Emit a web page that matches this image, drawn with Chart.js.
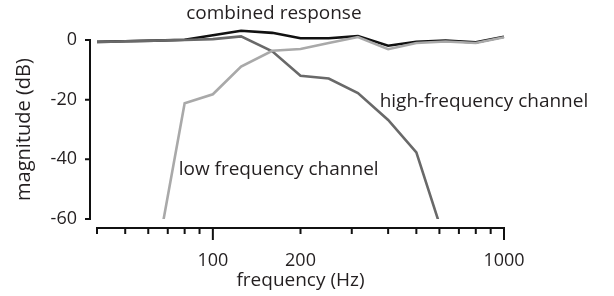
<!DOCTYPE html>
<html>
<head>
<meta charset="utf-8">
<script src="https://cdn.jsdelivr.net/npm/chart.js@4"></script>
<style>
  html, body { margin: 0; padding: 0; background: #fff; }
</style>
</head>
<body>
<canvas id="responseChart" width="614" height="296"></canvas>
<script>
// third-octave band centres (Hz)
const freqs = [40, 50, 63, 80, 100, 125, 160, 200, 250, 315, 400, 500, 630, 800, 1000];
// magnitudes in dB, null where the curve is far below the plot
const combined    = [-0.6, -0.4, -0.2, 0.1, 1.6, 3.1, 2.4, 0.6, 0.6, 1.3, -1.9, -0.6, -0.2, -0.8, 1.1];
const lowChannel  = [null, null, -77, -21.2, -18.2, -8.9, -3.6, -3.0, -1.0, 1.0, -3.1, -1.0, -0.5, -1.0, 0.9];
const highChannel = [-0.7, -0.4, -0.2, 0.0, 0.3, 1.2, -3.8, -12.0, -12.9, -17.8, -26.8, -37.7, -68, null, null];

const freqTicks = [100, 200, 1000];
const minorFreqs = [40, 50, 60, 70, 80, 90, 200, 300, 400, 500, 600, 700, 800, 900];
const majorFreqs = [100, 1000];
const dbTicks = [0, -20, -40, -60];

const textColor = '#231f20';
Chart.defaults.font.family = '"Open Sans"';
Chart.defaults.color = textColor;

const points = vals => freqs.map((f, i) => ({ x: f, y: vals[i] }));

// only clip at the bottom (-60 dB); the combined curve rises above 0 dB
const clipBottom = { left: false, top: false, right: false, bottom: 0 };

const axesAndNotes = {
    id: 'axesAndNotes',
    afterDraw(chart) {
        const { ctx, chartArea } = chart;
        const xs = chart.scales.x, ys = chart.scales.y;
        ctx.save();
        ctx.strokeStyle = '#111';
        ctx.lineWidth = 2;
        ctx.lineCap = 'square';

        // y axis, set off to the left of the plot
        const yLine = chartArea.left - 7;
        ctx.beginPath();
        ctx.moveTo(yLine, ys.getPixelForValue(0));
        ctx.lineTo(yLine, ys.getPixelForValue(-60));
        dbTicks.forEach(v => {
            const p = ys.getPixelForValue(v);
            ctx.moveTo(yLine - 4, p);
            ctx.lineTo(yLine, p);
        });
        ctx.stroke();

        // x axis, set off below the plot
        const xLine = chartArea.bottom + 9;
        ctx.lineCap = 'butt';
        ctx.beginPath();
        ctx.moveTo(xs.getPixelForValue(40) - 1, xLine);
        ctx.lineTo(xs.getPixelForValue(1000) + 1, xLine);
        minorFreqs.forEach(f => {
            const p = xs.getPixelForValue(f);
            ctx.moveTo(p, xLine);
            ctx.lineTo(p, xLine + 6);
        });
        majorFreqs.forEach(f => {
            const p = xs.getPixelForValue(f);
            ctx.moveTo(p, xLine);
            ctx.lineTo(p, xLine + 12);
        });
        ctx.stroke();

        // curve labels
        const notes = [
            { text: 'combined response', f: 81, db: 7.0 },
            { text: 'high-frequency channel', f: 374, db: -22.4 },
            { text: 'low frequency channel', f: 76.3, db: -45.2 }
        ];
        ctx.fillStyle = textColor;
        ctx.font = '19px "Open Sans"';
        ctx.textAlign = 'left';
        ctx.textBaseline = 'alphabetic';
        notes.forEach(n => {
            ctx.fillText(n.text, xs.getPixelForValue(n.f), ys.getPixelForValue(n.db));
        });
        ctx.restore();
    }
};

const ctx = document.getElementById('responseChart').getContext('2d');
const responseChart = new Chart(ctx, {
    type: 'line',
    data: {
        datasets: [{
            label: 'low frequency channel',
            data: points(lowChannel),
            borderColor: '#a9a9a9',
            borderWidth: 2.6,
            clip: clipBottom
        }, {
            label: 'high-frequency channel',
            data: points(highChannel),
            borderColor: '#696969',
            borderWidth: 2.6,
            clip: clipBottom
        }, {
            label: 'combined response',
            data: points(combined),
            borderColor: '#111111',
            borderWidth: 2.6,
            clip: clipBottom
        }]
    },
    options: {
        responsive: false,
        animation: false,
        elements: {
            point: { radius: 0 },
            line: { tension: 0 }
        },
        layout: {
            padding: { top: 40, right: 110, bottom: 0, left: 0 }
        },
        plugins: {
            legend: { display: false },
            tooltip: { enabled: false }
        },
        scales: {
            x: {
                type: 'logarithmic',
                min: 40,
                max: 1000,
                grid: { display: false, drawTicks: false },
                border: { display: false },
                afterBuildTicks: scale => {
                    scale.ticks = freqTicks.map(v => ({ value: v }));
                },
                afterFit: scale => { scale.height = 77; },
                ticks: {
                    autoSkip: false,
                    maxRotation: 0,
                    padding: 31,
                    font: { size: 18 },
                    callback: v => String(v)
                },
                title: {
                    display: true,
                    text: 'frequency (Hz)',
                    font: { size: 19 },
                    padding: { top: 0, bottom: 4 }
                }
            },
            y: {
                min: -60,
                max: 0,
                grid: { display: false, drawTicks: false },
                border: { display: false },
                afterBuildTicks: scale => {
                    scale.ticks = dbTicks.map(v => ({ value: v }));
                },
                afterFit: scale => { scale.width = 97; },
                ticks: {
                    padding: 20,
                    font: { size: 18 },
                    callback: v => String(v)
                },
                title: {
                    display: true,
                    text: 'magnitude (dB)',
                    font: { size: 20 },
                    padding: { top: 12, bottom: 0 }
                }
            }
        }
    },
    plugins: [axesAndNotes]
});
</script>
</body>
</html>
